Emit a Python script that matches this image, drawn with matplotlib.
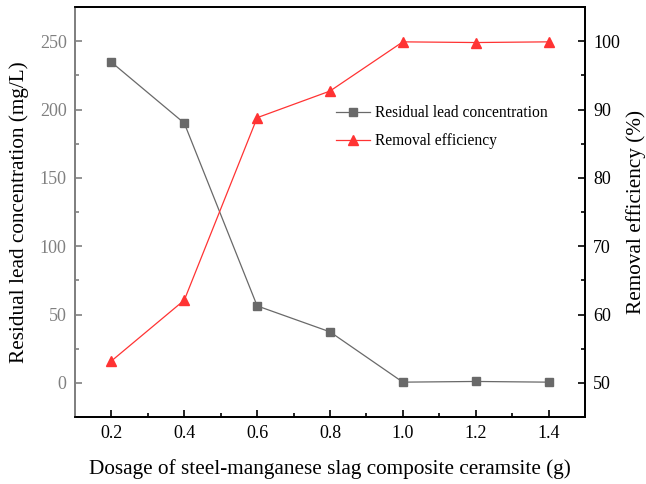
import matplotlib
matplotlib.use("Agg")
import matplotlib.pyplot as plt
from matplotlib.ticker import MultipleLocator

plt.rcParams["font.family"] = ["Liberation Serif", "DejaVu Serif"]

# data
dosage = [0.2, 0.4, 0.6, 0.8, 1.0, 1.2, 1.4]
residual_lead = [234.6, 190.0, 56.3, 37.3, 0.5, 1.0, 0.5]
removal_eff = [53.2, 62.1, 88.8, 92.7, 99.9, 99.8, 99.9]

gray = "#696969"
axis_gray = "#808080"
red = "#ff3333"

fig = plt.figure(figsize=(6.46, 4.84), dpi=100)
ax = fig.add_axes([75 / 646, 1 - 417 / 484, 510 / 646, 410 / 484])
ax2 = ax.twinx()

l1, = ax.plot(dosage, residual_lead, color=gray, lw=0.9, marker="s", ms=6,
              markerfacecolor=gray, markeredgecolor=gray,
              label="Residual lead concentration")
l2, = ax2.plot(dosage, removal_eff, color=red, lw=0.9, marker="^", ms=7.5,
               markerfacecolor=red, markeredgecolor=red,
               label="Removal efficiency")

ax.set_xlim(0.1, 1.5)
ax.set_ylim(-25, 275)
ax2.set_ylim(45, 105)

ax.xaxis.set_minor_locator(MultipleLocator(0.1))
ax.yaxis.set_major_locator(MultipleLocator(50))
ax.yaxis.set_minor_locator(MultipleLocator(25))
ax2.yaxis.set_major_locator(MultipleLocator(10))
ax2.yaxis.set_minor_locator(MultipleLocator(5))
ax.set_xticks(dosage)
ax.set_xticklabels([f"{d:.1f}" for d in dosage])

for a in (ax, ax2):
    a.tick_params(which="major", direction="in", length=5, width=1.2,
                  labelsize=13, pad=6)
    a.tick_params(which="minor", direction="in", length=3, width=1.2)
    for s in a.spines.values():
        s.set_linewidth(1.3)

ax.tick_params(axis="y", which="both", colors=axis_gray)
ax2.spines["left"].set_color(axis_gray)
ax.spines["left"].set_color(axis_gray)

ax.set_xlabel("Dosage of steel-manganese slag composite ceramsite (g)", fontsize=15.3, labelpad=12)
ax.set_ylabel("Residual lead concentration (mg/L)", fontsize=15.3, labelpad=8)
ax2.set_ylabel("Removal efficiency (%)", fontsize=15.3, labelpad=4)

ax.legend(handles=[l1, l2], loc="upper left", bbox_to_anchor=(0.5, 0.775),
          frameon=False, fontsize=11.2, handlelength=2.2, handletextpad=0.3,
          labelspacing=0.75, borderaxespad=0)

fig.savefig("out.png", dpi=100)
plt.close(fig)
